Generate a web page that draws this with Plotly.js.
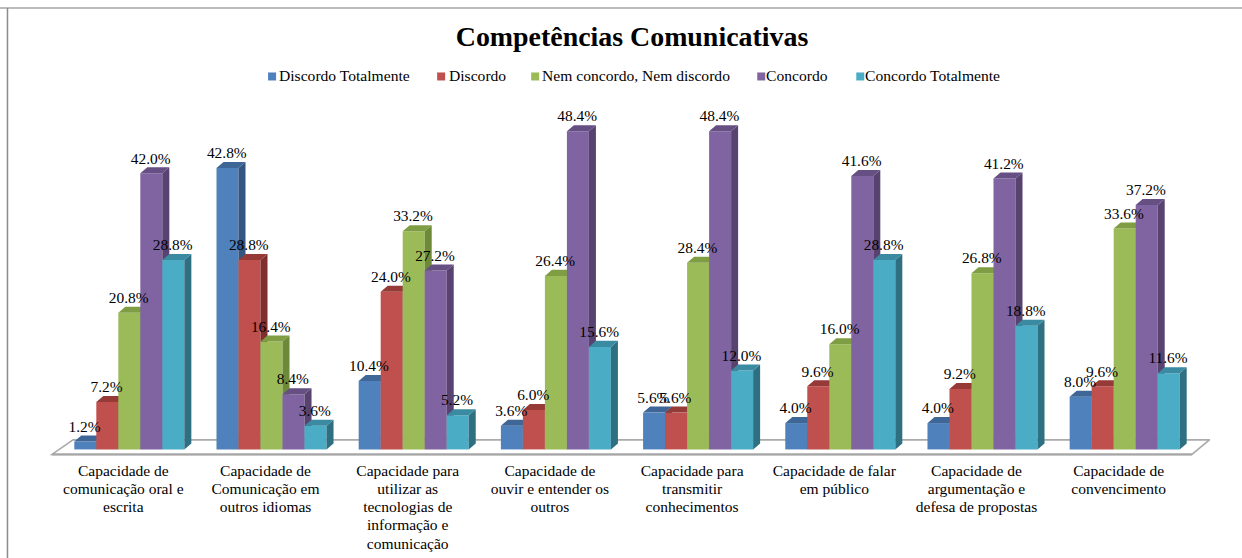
<!DOCTYPE html>
<html>
<head>
<meta charset="utf-8">
<script src="https://cdn.plot.ly/plotly-3.0.1.min.js"></script>
<style>html,body{margin:0;padding:0;background:#fff;overflow:hidden}</style>
</head>
<body>
<div id="chart" style="width:1242px;height:558px"></div>
<script>
// Survey answers per skill, in percent
const categories = [
  "Capacidade de<br>comunicação oral e<br>escrita",
  "Capacidade de<br>Comunicação em<br>outros idiomas",
  "Capacidade para<br>utilizar as<br>tecnologias de<br>informação e<br>comunicação",
  "Capacidade de<br>ouvir e entender os<br>outros",
  "Capacidade para<br>transmitir<br>conhecimentos",
  "Capacidade de falar<br>em público",
  "Capacidade de<br>argumentação e<br>defesa de propostas",
  "Capacidade de<br>convencimento"
];
const discordoTotalmente = [1.2, 42.8, 10.4, 3.6, 5.6, 4.0, 4.0, 8.0];
const discordo           = [7.2, 28.8, 24.0, 6.0, 5.6, 9.6, 9.2, 9.6];
const nemNem             = [20.8, 16.4, 33.2, 26.4, 28.4, 16.0, 26.8, 33.6];
const concordo           = [42.0, 8.4, 27.2, 48.4, 48.4, 41.6, 41.2, 37.2];
const concordoTotalmente = [28.8, 3.6, 5.2, 15.6, 12.0, 28.8, 18.8, 11.6];

const seriesNames = ["Discordo Totalmente", "Discordo", "Nem concordo, Nem discordo", "Concordo", "Concordo Totalmente"];
const seriesValues = [discordoTotalmente, discordo, nemNem, concordo, concordoTotalmente];
const frontColors = ["#4F81BD", "#C0504D", "#9BBB59", "#8064A2", "#4BACC6"];
const sideColors  = ["#34557F", "#7F2F2D", "#6C8A38", "#58426F", "#2F6F82"];
const topColors   = ["#3E6797", "#963A38", "#7F9E44", "#665083", "#3A8BA2"];
const legendSwatchX = [268, 437, 531, 757, 856];
const legendTextX   = [279, 449, 542, 766, 865];

// Canvas and plot frame in pixels
const W = 1242, H = 558;
const plot = {l: 44, r: 1209.6, t: 55.05, b: 455.6};
const xRange = [-0.6, 7.6], yRange = [-1, 60];
const pxPerX = (plot.r - plot.l) / (xRange[1] - xRange[0]);
const pxPerY = (plot.b - plot.t) / (yRange[1] - yRange[0]);
const paperX = px => (px - plot.l) / (plot.r - plot.l);
const paperY = py => (plot.b - py) / (plot.b - plot.t);

const barWidth = 22 / pxPerX;         // one column inside a group
const depthX = 7 / pxPerX;            // oblique depth of the extruded faces
const depthY = 6 / pxPerY;
const labelLift = 13.6 / pxPerY;      // value label above the column's front top
const labelNudge = -0.7 / pxPerX;
const tickNudge = -6 / pxPerX;        // category labels sit slightly left of their group
const tickLineEm = 1.18;              // line pitch of the wrapped category labels

const axisSuffix = i => (i === 0 ? "" : String(i + 1));
const traces = [];

seriesValues.forEach((values, s) => {
  const ax = {xaxis: "x" + axisSuffix(s), yaxis: "y" + axisSuffix(s)};
  const lefts = values.map((v, i) => i + (s - 2.5) * barWidth);

  traces.push(Object.assign({
    type: "bar", name: seriesNames[s], x: values.map((v, i) => i), y: values,
    offset: (s - 2.5) * barWidth, width: barWidth,
    marker: {color: frontColors[s], line: {width: 0}},
    hovertemplate: "%{y:.1f}%<extra>" + seriesNames[s] + "</extra>", showlegend: false
  }, ax));

  // Right-hand and top faces of every column in this series
  const sideX = [], sideY = [], topX = [], topY = [];
  values.forEach((v, i) => {
    const xl = lefts[i], xr = xl + barWidth;
    sideX.push(xr, xr + depthX, xr + depthX, xr, xr, null);
    sideY.push(0, depthY, v + depthY, v, 0, null);
    topX.push(xl, xr, xr + depthX, xl + depthX, xl, null);
    topY.push(v, v, v + depthY, v + depthY, v, null);
  });
  [[sideX, sideY, sideColors[s]], [topX, topY, topColors[s]]].forEach(([fx, fy, color]) => {
    traces.push(Object.assign({
      type: "scatter", mode: "lines", x: fx, y: fy, fill: "toself", fillcolor: color,
      line: {width: 0, color: color}, hoverinfo: "skip", showlegend: false
    }, ax));
  });
});

// Value labels sit on their own overlay so they stay above every column
seriesValues.forEach((values, s) => {
  traces.push({
    type: "scatter", mode: "text", xaxis: "x6", yaxis: "y6",
    x: values.map((v, i) => i + (s - 2) * barWidth + labelNudge),
    y: values.map(v => v + labelLift),
    text: values.map(v => v.toFixed(1) + "%"),
    textposition: "middle center", cliponaxis: false,
    textfont: {family: "Liberation Serif", size: 15.4, color: "#000"},
    hoverinfo: "skip", showlegend: false
  });
});

const dataY = py => (plot.b - py) / pxPerY + yRange[0];
const dataX = px => (px - plot.l) / pxPerX + xRange[0];

const shapes = [
  // Outer frame, open on the right and bottom
  {type: "line", xref: "paper", yref: "paper", x0: paperX(0), x1: paperX(W), y0: paperY(8), y1: paperY(8),
   line: {color: "#A6A6A6", width: 1.5}},
  {type: "line", xref: "paper", yref: "paper", x0: paperX(7.5), x1: paperX(7.5), y0: paperY(8), y1: paperY(H),
   line: {color: "#8C8C8C", width: 1.5}},
  // Floor of the 3D box
  {type: "path", xref: "x", yref: "y", layer: "below", fillcolor: "#FFFFFF",
   line: {color: "#ABABAB", width: 1.6},
   path: `M${dataX(52)},${dataY(454)} L${dataX(1191.5)},${dataY(454)} L${dataX(1209)},${dataY(439.5)} L${dataX(73)},${dataY(439.5)} Z`},
  {type: "line", xref: "x", yref: "y", layer: "below", x0: dataX(52), x1: dataX(1191.5), y0: dataY(454), y1: dataY(454),
   line: {color: "#A6A6A6", width: 2}}
];

const annotations = [];
seriesNames.forEach((name, s) => {
  shapes.push({
    type: "rect", xref: "paper", yref: "paper",
    x0: paperX(legendSwatchX[s]), x1: paperX(legendSwatchX[s] + 8),
    y0: paperY(72.5), y1: paperY(80.5),
    fillcolor: frontColors[s], line: {width: 0}
  });
  annotations.push({
    xref: "paper", yref: "paper", x: paperX(legendTextX[s]), y: paperY(76),
    xanchor: "left", yanchor: "middle", showarrow: false, text: name,
    xshift: 0, borderpad: 0, borderwidth: 0,
    font: {family: "Liberation Serif", size: 15.6, color: "#000"}
  });
});

const layout = {
  width: W, height: H,
  margin: {l: plot.l, r: W - plot.r, t: plot.t, b: H - plot.b, pad: 0},
  paper_bgcolor: "#fff", plot_bgcolor: "rgba(0,0,0,0)",
  title: {text: "Competências Comunicativas", x: 632 / W, xanchor: "center", y: 1 - 36 / H, yanchor: "middle",
          font: {family: "Liberation Serif", size: 27.9, color: "#000", weight: 700}},
  showlegend: false,
  barmode: "overlay",
  xaxis: {range: xRange, tickmode: "array", tickvals: categories.map((c, i) => i + tickNudge), ticktext: categories,
          ticks: "", showline: false, showgrid: false, zeroline: false, tickangle: 0, fixedrange: true,
          ticklabelstandoff: 3,
          tickfont: {family: "Liberation Serif", size: 15.5, color: "#000"}},
  yaxis: {range: yRange, visible: false, showgrid: false, zeroline: false, fixedrange: true},
  shapes, annotations, hovermode: false
};
// One overlay pair per series keeps each column's faces under the next column
for (let i = 2; i <= 6; i++) {
  layout["xaxis" + i] = {range: xRange, overlaying: "x", visible: false, fixedrange: true};
  layout["yaxis" + i] = {range: yRange, overlaying: "y", visible: false, fixedrange: true};
}

Plotly.newPlot("chart", traces, layout, {displayModeBar: false, staticPlot: true}).then(() => {
  // Tighten the pitch of the multi-line category labels
  document.querySelectorAll(".xtick text").forEach(t => {
    t.querySelectorAll("tspan.line").forEach((line, i) => line.setAttribute("dy", (i * tickLineEm) + "em"));
  });
});
</script>
</body>
</html>
